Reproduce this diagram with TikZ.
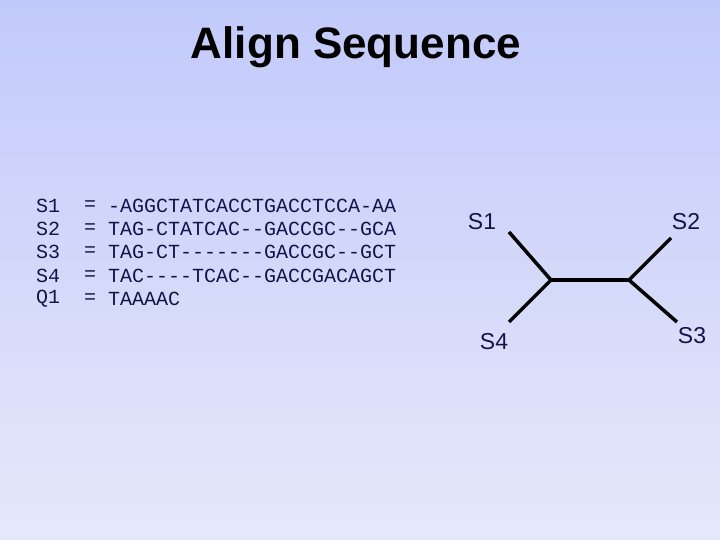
\documentclass[tikz,border=0pt]{standalone}
\usepackage{fontspec}
\setmainfont{Liberation Sans}
\setmonofont{Liberation Mono}
\definecolor{ink}{HTML}{14144A}
\definecolor{bgtop}{HTML}{C2CAFB}
\definecolor{bgbot}{HTML}{E6E8FA}
\begin{document}
\begin{tikzpicture}[x=1pt,y=-1pt,
  seq/.style={anchor=west,inner sep=0pt,text=ink,font=\ttfamily\fontsize{20}{23}\selectfont},
  lab/.style={inner sep=0pt,text=ink,font=\fontsize{23}{27}\selectfont},
  br/.style={line width=3.5pt,black}]
\shade[top color=bgtop,bottom color=bgbot] (0,0) rectangle (720,540);
\useasboundingbox (0,0) rectangle (720,540);
\node[inner sep=0pt,font=\bfseries\fontsize{44}{52}\selectfont] (title) at (356,47) {Align Sequence};
\foreach \n/\y/\s in {a/206/S1, b/229/S2, c/252/S3, d/276/S4, e/299/Q1}{
  \node[seq] (n\n) at (36,\y) {\s};
  \node[seq] (q\n) at (84,\y) {=};
}
\node[seq] (sa) at (108,206) {-AGGCTATCACCTGACCTCCA-AA};
\node[seq] (sb) at (108,229) {TAG-CTATCAC--GACCGC--GCA};
\node[seq] (sc) at (108,252) {TAG-CT-------GACCGC--GCT};
\node[seq] (sd) at (108,276) {TAC----TCAC--GACCGACAGCT};
\node[seq] (se) at (108,299) {TAAAAC};
\node[lab] (l1) at (482,222) {S1};
\node[lab] (l2) at (686,222) {S2};
\node[lab] (l4) at (494,342) {S4};
\node[lab] (l3) at (692,336) {S3};
\coordinate (j1) at (551,280);
\coordinate (j2) at (629,280);
\coordinate (e1) at (509,232);
\coordinate (e4) at (509,322);
\coordinate (e2) at (671,238);
\coordinate (e3) at (677,322);
\draw[br] (e1) -- (j1) -- (e4);
\draw[br] (j1) -- (j2);
\draw[br] (e2) -- (j2) -- (e3);
\end{tikzpicture}
\end{document}
